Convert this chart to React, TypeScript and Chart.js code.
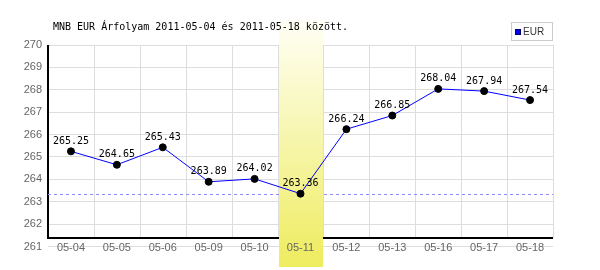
import React, { useEffect, useRef } from "react";
import { Chart, registerables } from "chart.js";

Chart.register(...registerables);

const categories = ["05-04", "05-05", "05-06", "05-09", "05-10", "05-11", "05-12", "05-13", "05-16", "05-17", "05-18"];
const eurValues = [265.25, 264.65, 265.43, 263.89, 264.02, 263.36, 266.24, 266.85, 268.04, 267.94, 267.54];
const valueLabels = ["265.25", "264.65", "265.43", "263.89", "264.02", "263.36", "266.24", "266.85", "268.04", "267.94", "267.54"];
const yMin = 261;
const yMax = 270;
const highlightIndex = 5;
const minValue = 263.36;
const titleText = "MNB EUR Árfolyam 2011-05-04 és 2011-05-18 között.";
const seriesName = "EUR";

const decorPlugin = {
  id: "decor",
  beforeDatasetsDraw(chart: any) {
    const { ctx, chartArea, scales } = chart;
    const x = scales.x;
    const y = scales.y;
    const step = x.getPixelForValue(1) - x.getPixelForValue(0);
    const axisY = 238;
    ctx.save();
    // vertical grid lines
    ctx.strokeStyle = "#dddddd";
    ctx.lineWidth = 1;
    for (let i = 0; i <= categories.length; i++) {
      const px = Math.round(x.getPixelForValue(0) - step / 2 + i * step) + 0.5;
      ctx.beginPath();
      ctx.moveTo(px, chartArea.top);
      ctx.lineTo(px, axisY);
      ctx.stroke();
    }
    // axis lines
    ctx.strokeStyle = "#000000";
    ctx.lineWidth = 2;
    ctx.beginPath();
    ctx.moveTo(chartArea.left, chartArea.top);
    ctx.lineTo(chartArea.left, axisY);
    ctx.lineTo(chartArea.right, axisY);
    ctx.stroke();
    // min dashed line
    const my = Math.round(y.getPixelForValue(minValue)) + 0.5;
    ctx.strokeStyle = "#8c8cff";
    ctx.lineWidth = 1;
    ctx.setLineDash([3, 3]);
    ctx.beginPath();
    ctx.moveTo(chartArea.left, my);
    ctx.lineTo(chartArea.right, my);
    ctx.stroke();
    ctx.setLineDash([]);
    // highlight band
    const cx = x.getPixelForValue(highlightIndex);
    const bx0 = Math.round(cx - step / 2) + 1;
    const bx1 = Math.round(cx + step / 2);
    const top = 20;
    const bottom = 267;
    const g = ctx.createLinearGradient(0, top, 0, bottom);
    g.addColorStop(0, "#fffff6");
    g.addColorStop(1, "#eeec5e");
    ctx.fillStyle = g;
    ctx.fillRect(bx0, top, bx1 - bx0, bottom - top);
    // x labels
    ctx.fillStyle = "#666666";
    ctx.font = "11px 'Liberation Sans', Arial, sans-serif";
    ctx.textAlign = "center";
    ctx.textBaseline = "middle";
    categories.forEach((c, i) => {
      ctx.fillText(c, x.getPixelForValue(i), 248);
    });
    // title
    ctx.fillStyle = "#000000";
    ctx.font = "10px 'DejaVu Sans Mono', monospace";
    ctx.textAlign = "left";
    ctx.fillText(titleText, 53, 27);
    // legend
    ctx.strokeStyle = "#cccccc";
    ctx.lineWidth = 1;
    ctx.fillStyle = "#ffffff";
    ctx.fillRect(511.5, 22.5, 41, 18);
    ctx.strokeRect(511.5, 22.5, 41, 18);
    ctx.fillStyle = "#0000ff";
    ctx.fillRect(515, 29, 6, 6);
    ctx.strokeStyle = "#000066";
    ctx.strokeRect(515.5, 29.5, 5, 5);
    ctx.fillStyle = "#333333";
    ctx.font = "10px 'Liberation Sans', Arial, sans-serif";
    ctx.fillText(seriesName, 523, 32);
    ctx.restore();
  },
  afterDatasetsDraw(chart: any) {
    const { ctx } = chart;
    const meta = chart.getDatasetMeta(0);
    ctx.save();
    ctx.fillStyle = "#000000";
    ctx.font = "10px 'DejaVu Sans Mono', monospace";
    ctx.textAlign = "center";
    ctx.textBaseline = "middle";
    meta.data.forEach((pt: any, i: number) => {
      ctx.fillText(valueLabels[i], pt.x, pt.y - 10);
    });
    ctx.restore();
  },
};

export default function App() {
  const ref = useRef<HTMLCanvasElement>(null);
  useEffect(() => {
    document.body.style.margin = "0";
    const chart = new Chart(ref.current as HTMLCanvasElement, {
      type: "line",
      data: {
        labels: categories,
        datasets: [
          {
            label: seriesName,
            data: eurValues,
            borderColor: "#0000ff",
            borderWidth: 1,
            pointBackgroundColor: "#000000",
            pointBorderColor: "#000000",
            pointRadius: 3.5,
            tension: 0,
          },
        ],
      },
      options: {
        animation: false,
        responsive: false,
        layout: { padding: { top: 45, bottom: 23.5, right: 47, left: 0 } },
        plugins: { legend: { display: false }, tooltip: { enabled: false } },
        scales: {
          x: { display: false, offset: true },
          y: {
            min: yMin,
            max: yMax,
            afterFit: (s: any) => {
              s.width = 48;
            },
            ticks: {
              stepSize: 1,
              padding: 6,
              color: "#666666",
              font: { family: "'Liberation Sans', Arial, sans-serif", size: 11 },
            },
            grid: { color: "#dddddd", drawTicks: false },
            border: { display: false },
          },
        },
      },
      plugins: [decorPlugin],
    });
    return () => chart.destroy();
  }, []);
  return (
    <div style={{ width: 600, height: 270 }}>
      <canvas ref={ref} width={600} height={270} />
    </div>
  );
}
